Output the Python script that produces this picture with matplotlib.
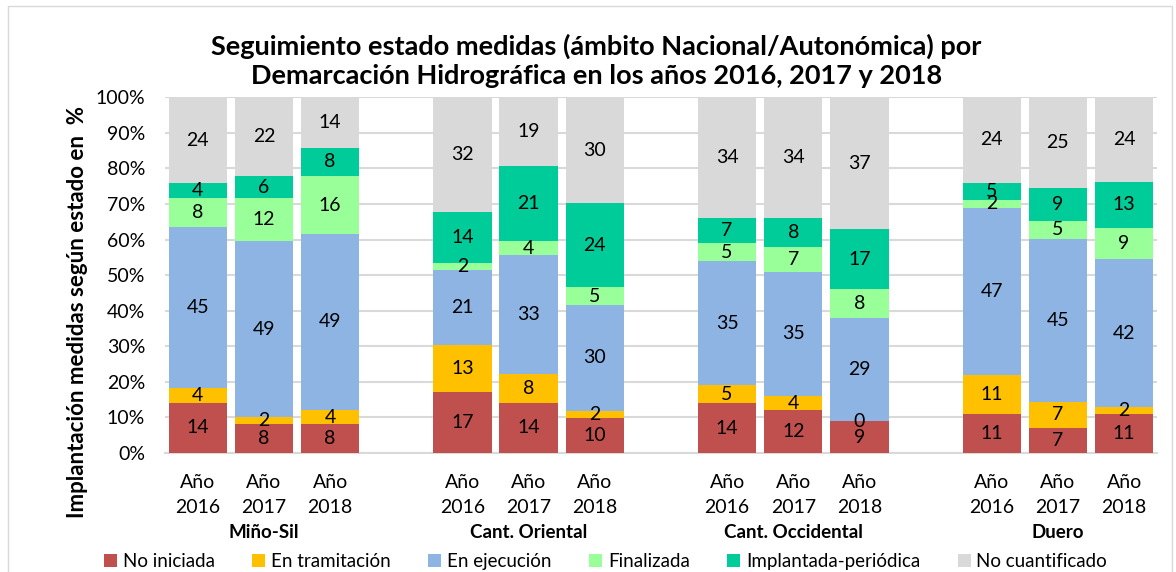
import matplotlib; matplotlib.use('Agg')
import numpy as np
import matplotlib.pyplot as plt
from matplotlib.patches import Rectangle
import matplotlib.transforms as mtransforms

plt.rcParams['font.family'] = ['Lato', 'DejaVu Sans']

TITLE = 'Seguimiento estado medidas (ámbito Nacional/Autonómica) por\nDemarcación Hidrográfica en los años 2016, 2017 y 2018'
Y_LABEL = 'Implantación medidas según estado en  %'

groups = ['Miño-Sil', 'Cant. Oriental', 'Cant. Occidental', 'Duero']
years = ['Año\n2016', 'Año\n2017', 'Año\n2018']

series = ['No iniciada', 'En tramitación', 'En ejecución', 'Finalizada',
          'Implantada-periódica', 'No cuantificado']
colors = ['#C0504D', '#FFC000', '#8EB4E3', '#99FF99', '#00CC99', '#D9D9D9']

# one list per series, 12 bars (4 groups x 3 years)
no_iniciada     = [14, 8, 8,   17, 14, 10,  14, 12, 9,   11, 7, 11]
en_tramitacion  = [4, 2, 4,    13, 8, 2,    5, 4, 0,     11, 7, 2]
en_ejecucion    = [45, 49, 49, 21, 33, 30,  35, 35, 29,  47, 45, 42]
finalizada      = [8, 12, 16,  2, 4, 5,     5, 7, 8,     2, 5, 9]
implantada      = [4, 6, 8,    14, 21, 24,  7, 8, 17,    5, 9, 13]
no_cuantificado = [24, 22, 14, 32, 19, 30,  34, 34, 37,  24, 25, 24]


def draw_chart():
    data = np.array([no_iniciada, en_tramitacion, en_ejecucion,
                     finalizada, implantada, no_cuantificado], dtype=float)
    pct = data / data.sum(axis=0) * 100

    # positions with an empty slot between groups
    xs = []
    for g in range(len(groups)):
        for y in range(len(years)):
            xs.append(g * 4 + y)
    xs = np.array(xs)

    fig = plt.figure(figsize=(11.76, 5.72), dpi=100)
    ax = fig.add_axes([0.140, 0.208, 0.844, 0.622])

    bottom = np.zeros(len(xs))
    for i, name in enumerate(series):
        ax.bar(xs, pct[i], 0.88, bottom=bottom, color=colors[i],
               label=name, zorder=3)
        for x, b, h, v in zip(xs, bottom, pct[i], data[i]):
            ax.text(x, b + h / 2, '%d' % v, ha='center', va='center',
                    fontsize=14, color='black', zorder=4)
        bottom += pct[i]

    ax.set_ylim(0, 100)
    ax.set_xlim(-0.5, 14.5)
    ax.set_yticks(np.arange(0, 101, 10))
    ax.set_yticklabels(['%d%%' % v for v in range(0, 101, 10)], fontsize=14)
    ax.set_xticks(xs)
    ax.set_xticklabels(years * len(groups), fontsize=14, linespacing=1.6)
    ax.tick_params(axis='both', length=0)
    ax.tick_params(axis='x', pad=15)
    ax.tick_params(axis='y', pad=14)
    ax.grid(axis='y', color='#D9D9D9', linewidth=1.5, zorder=0)
    for s in ['top', 'right', 'left']:
        ax.spines[s].set_visible(False)
    ax.spines['bottom'].set_color('#D9D9D9')
    ax.spines['bottom'].set_linewidth(1.5)

    trans = mtransforms.blended_transform_factory(ax.transData, ax.transAxes)
    for g, name in enumerate(groups):
        ax.text(g * 4 + 1, -0.222, name, transform=trans, ha='center',
                va='center', fontsize=13.5, fontweight='bold')

    ax.set_ylabel(Y_LABEL, fontsize=16, fontweight='bold')
    ax.yaxis.set_label_coords(-0.077, 0.397)
    fig.text(0.507, 0.893, TITLE, ha='center', va='center', fontsize=19.5,
             fontweight='bold', linespacing=1.25)

    fig.legend(loc='center', bbox_to_anchor=(0.515, 0.019), ncol=6,
               frameon=False, fontsize=13.5, handlelength=0.7,
               handleheight=0.7, handletextpad=0.3, columnspacing=2.0)

    fig.patches.append(Rectangle((0.007, -0.01), 0.99, 1.0, transform=fig.transFigure,
                                 fill=False, edgecolor='#D9D9D9', linewidth=1))
    fig.savefig('out.png', dpi=100)


if __name__ == "__main__":
    draw_chart()
